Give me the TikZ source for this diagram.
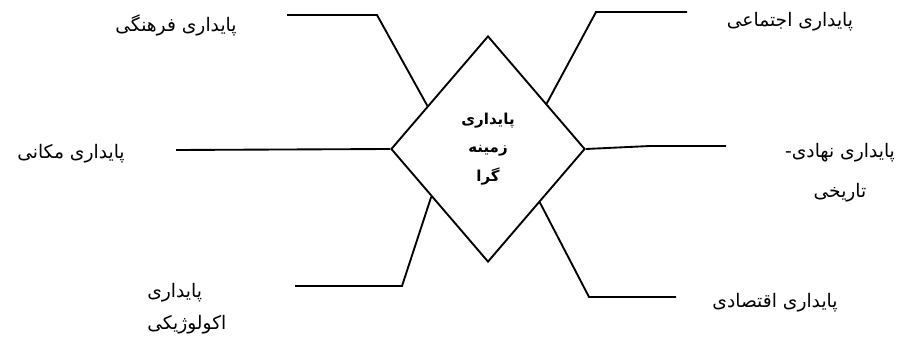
\documentclass[tikz,border=0pt]{standalone}
\usepackage{fontspec}
\setmainfont{DejaVu Sans}
\newfontfamily\arabicfont[Script=Arabic]{DejaVu Sans}
\TeXXeTstate=1
\usetikzlibrary{calc, shapes.geometric, positioning}
\tikzset{
    branch/.style={black, line width=1.4pt, line join=miter},
    factor/.style={font=\arabicfont\fontsize{14}{24}\selectfont, align=center, inner sep=0pt}
}

\begin{document}
\begin{tikzpicture}[x=0.75pt, y=-0.75pt]
    \useasboundingbox (0,0) rectangle (898,338);

    % Core
    \node[draw, branch, diamond, minimum width=145.5pt, minimum height=169.5pt, inner sep=0pt,
          font=\arabicfont\bfseries\fontsize{11.3}{21.5}\selectfont, align=center] (core) at (488,149)
        {\beginR پایداری\endR\\\beginR زمینه\endR\\\beginR گرا\endR};

    % Foot points on the core
    \coordinate (CulFoot) at ($(core.north)!0.62!(core.west)$);
    \coordinate (EcoFoot) at ($(core.south)!0.58!(core.west)$);
    \coordinate (SocFoot) at ($(core.north)!0.60!(core.east)$);
    \coordinate (EcnFoot) at ($(core.south)!0.53!(core.east)$);

    % Bends and ends
    \coordinate (CulBend) at (377,15);  \coordinate (CulEnd) at (287,15);
    \coordinate (LocEnd)  at (176,150);
    \coordinate (EcoBend) at (402,286); \coordinate (EcoEnd) at (295,286);
    \coordinate (SocBend) at (596,12);  \coordinate (SocEnd) at (687,12);
    \coordinate (InsBend) at (650,146); \coordinate (InsEnd) at (726,146);
    \coordinate (EcnBend) at (589,297); \coordinate (EcnEnd) at (676,297);

    % Labels
    \node[factor] (Cul) at (176,25)  {\beginR پایداری فرهنگی\endR};
    \node[factor] (Loc) at (71,154)  {\beginR پایداری مکانی\endR};
    \node[factor, align=left, anchor=west] (Eco) at (147,309) {\beginR پایداری\endR\\\beginR اکولوژیکی\endR};
    \node[factor] (Soc) at (790,22)  {\beginR پایداری اجتماعی\endR};
    \node[factor, font=\arabicfont\fontsize{14}{30}\selectfont] (Ins) at (840,173)
        {\beginR پایداری نهادی-\endR\\\beginR تاریخی\endR};
    \node[factor] (Ecn) at (775,303) {\beginR پایداری اقتصادی\endR};

    % Branches
    \draw[branch] (CulFoot) -- (CulBend) -- (CulEnd);
    \draw[branch] (core.west) -- (LocEnd);
    \draw[branch] (EcoFoot) -- (EcoBend) -- (EcoEnd);
    \draw[branch] (SocFoot) -- (SocBend) -- (SocEnd);
    \draw[branch] (core.east) -- (InsBend) -- (InsEnd);
    \draw[branch] (EcnFoot) -- (EcnBend) -- (EcnEnd);
\end{tikzpicture}
\end{document}
